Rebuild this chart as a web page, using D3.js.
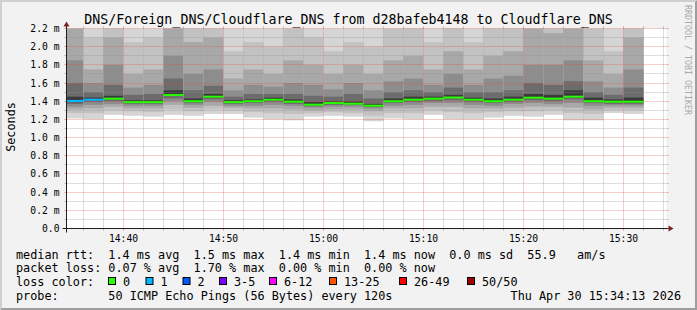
<!DOCTYPE html>
<html>
<head>
<meta charset="utf-8">
<script src="https://cdn.jsdelivr.net/npm/d3@7"></script>
<style>
  body { margin: 0; background: #f2f2f2; }
  svg text { font-family: "DejaVu Sans Mono", monospace; }
</style>
</head>
<body>
<div id="plot"></div>
<script>
const w = 697,
    h = 310,
    margin = {top: 28.5, right: 30.5, bottom: 81.5, left: 66.5}

// bar end times (120 s step)
const barEnds = ["14:36", "14:38", "14:40", "14:42", "14:44", "14:46", "14:48", "14:50", "14:52", "14:54",
  "14:56", "14:58", "15:00", "15:02", "15:04", "15:06", "15:08", "15:10", "15:12", "15:14",
  "15:16", "15:18", "15:20", "15:22", "15:24", "15:26", "15:28", "15:30", "15:32"]

// median rtt, ms
const medians = [1.403, 1.417, 1.428, 1.390, 1.390, 1.468, 1.400, 1.450, 1.390, 1.400,
  1.417, 1.395, 1.362, 1.380, 1.373, 1.351, 1.400, 1.417, 1.428, 1.441,
  1.417, 1.400, 1.417, 1.439, 1.428, 1.450, 1.400, 1.395, 1.395]

// lost pings of 50
const lossCount = [1, 1, 0, 0, 0, 0, 0, 0, 0, 0, 0, 0, 0, 0, 0, 0, 0, 0, 0, 0, 0, 0, 0, 0, 0, 0, 0, 0, 0]

// smoke: ping rtt (ms) of the 1st, 5th, 10th, 15th, 20th, 24th highest ping
const upper = [
  [3.0, 2.6, 2.2, 1.85, 1.6, 1.45], [2.5, 2.1, 1.75, 1.6, 1.5, 1.44], [3.0, 2.5, 2.1, 1.8, 1.58, 1.46],
  [2.4, 2.05, 1.7, 1.55, 1.47, 1.41], [2.5, 2.1, 1.75, 1.58, 1.48, 1.41], [3.0, 2.5, 2.2, 1.9, 1.65, 1.52],
  [2.8, 2.4, 2.05, 1.7, 1.52, 1.43], [3.0, 2.5, 2.1, 1.75, 1.57, 1.48], [2.3, 1.95, 1.65, 1.52, 1.45, 1.41],
  [2.4, 2.05, 1.75, 1.58, 1.48, 1.42], [2.3, 2.0, 1.7, 1.56, 1.48, 1.44], [2.5, 2.2, 1.85, 1.6, 1.48, 1.42],
  [2.5, 2.1, 1.8, 1.58, 1.46, 1.39], [2.3, 1.95, 1.7, 1.53, 1.45, 1.40], [2.4, 2.05, 1.8, 1.6, 1.48, 1.40],
  [2.4, 2.0, 1.7, 1.52, 1.43, 1.37], [2.6, 2.2, 1.85, 1.62, 1.5, 1.43], [2.7, 2.3, 1.9, 1.65, 1.52, 1.45],
  [2.4, 2.05, 1.75, 1.58, 1.5, 1.45], [2.7, 2.3, 1.95, 1.7, 1.55, 1.47], [2.4, 2.05, 1.75, 1.58, 1.5, 1.44],
  [2.7, 2.3, 1.9, 1.65, 1.5, 1.43], [2.7, 2.3, 1.95, 1.68, 1.52, 1.45], [3.0, 2.6, 2.2, 1.8, 1.6, 1.48],
  [3.0, 2.55, 2.15, 1.8, 1.58, 1.47], [3.0, 2.6, 2.2, 1.85, 1.62, 1.52], [2.6, 2.2, 1.85, 1.62, 1.5, 1.44],
  [2.3, 1.95, 1.7, 1.55, 1.47, 1.42], [3.0, 2.5, 2.1, 1.75, 1.55, 1.44]]
// same, lowest pings
const lower = [
  [1.21, 1.27, 1.31, 1.34, 1.37, 1.39], [1.20, 1.27, 1.32, 1.36, 1.39, 1.41], [1.25, 1.30, 1.34, 1.37, 1.40, 1.42],
  [1.24, 1.29, 1.32, 1.35, 1.37, 1.385], [1.23, 1.28, 1.32, 1.35, 1.37, 1.385], [1.25, 1.31, 1.36, 1.40, 1.43, 1.46],
  [1.24, 1.29, 1.33, 1.36, 1.38, 1.395], [1.26, 1.31, 1.35, 1.39, 1.42, 1.44], [1.26, 1.30, 1.33, 1.35, 1.37, 1.385],
  [1.22, 1.28, 1.32, 1.35, 1.38, 1.395], [1.20, 1.27, 1.32, 1.36, 1.39, 1.41], [1.19, 1.26, 1.31, 1.35, 1.37, 1.39],
  [1.23, 1.27, 1.30, 1.33, 1.345, 1.357], [1.24, 1.28, 1.31, 1.34, 1.36, 1.375], [1.23, 1.27, 1.31, 1.34, 1.36, 1.368],
  [1.18, 1.24, 1.29, 1.32, 1.335, 1.346], [1.21, 1.27, 1.32, 1.35, 1.38, 1.395], [1.20, 1.27, 1.32, 1.36, 1.39, 1.41],
  [1.25, 1.30, 1.34, 1.38, 1.40, 1.42], [1.20, 1.28, 1.34, 1.38, 1.41, 1.435], [1.20, 1.27, 1.32, 1.36, 1.39, 1.41],
  [1.22, 1.28, 1.32, 1.35, 1.38, 1.395], [1.24, 1.29, 1.33, 1.37, 1.39, 1.41], [1.23, 1.29, 1.34, 1.38, 1.41, 1.43],
  [1.25, 1.30, 1.34, 1.37, 1.40, 1.42], [1.19, 1.27, 1.33, 1.38, 1.42, 1.44], [1.19, 1.26, 1.31, 1.35, 1.38, 1.395],
  [1.27, 1.30, 1.33, 1.355, 1.37, 1.39], [1.26, 1.30, 1.33, 1.355, 1.37, 1.39]]

const smokeGrays = ["#d5d5d5", "#c2c2c2", "#a8a8a8", "#8d8d8d", "#6c6c6c", "#3a3a3a"]

const yTicks = [0, 0.2, 0.4, 0.6, 0.8, 1.0, 1.2, 1.4, 1.6, 1.8, 2.0, 2.2]
const xTicks = ["14:40", "14:50", "15:00", "15:10", "15:20", "15:30"]

const lossLabels = ["0", "1", "2", "3-5", "6-12", "13-25", "26-49", "50/50"],
    lossColors = ["#26ff00", "#00b8ff", "#0059ff", "#7e00ff", "#ff00ff", "#ff5500", "#ff0000", "#a10000"],
    lossUpTo = [0, 1, 2, 5, 12, 25, 49, 50]

const title = "DNS/Foreign_DNS/Cloudflare_DNS from d28bafeb4148 to Cloudflare_DNS",
    statsLine = "median rtt:  1.4 ms avg  1.5 ms max  1.4 ms min  1.4 ms now  0.0 ms sd  55.9   am/s",
    lossLine = "packet loss: 0.07 % avg  1.70 % max  0.00 % min  0.00 % now",
    probeLine = "probe:       50 ICMP Echo Pings (56 Bytes) every 120s",
    stamp = "Thu Apr 30 15:34:13 2026"

const keepSpaces = (s) => s.replace(/ /g, "\u00a0")

const parseT = d3.timeParse("%H:%M:%S"),
    parseHM = d3.timeParse("%H:%M"),
    x = d3.scaleTime()
      .domain([parseT("14:34:18"), parseT("15:34:18")])
      .range([margin.left, w - margin.right]),
    y = d3.scaleLinear()
      .domain([0, 2.2])
      .range([h - margin.bottom, margin.top]),
    crisp = (v) => Math.round(v - 0.5) + 0.5

const svg = d3.select("#plot").append("svg")
  .attr("width", w)
  .attr("height", h)

// background + 3d frame
svg.append("rect").attr("width", w).attr("height", h).attr("fill", "#f2f2f2")
svg.append("polygon")
  .attr("points", `0,0 ${w},0 ${w-2},2 2,2 2,${h-2} 0,${h}`)
  .attr("fill", "#cfcfcf")
svg.append("polygon")
  .attr("points", `${w},0 ${w},${h} 0,${h} 2,${h-2} ${w-2},${h-2} ${w-2},2`)
  .attr("fill", "#9e9e9e")

const x0 = x.range()[0], x1 = x.range()[1], yb = y.range()[0], yt = y.range()[1]

svg.append("rect")
  .attr("x", x0).attr("y", yt)
  .attr("width", x1 - x0).attr("height", yb - yt)
  .attr("fill", "#ffffff")

svg.append("clipPath")
  .attr("id", "plot-clip")
  .append("rect")
  .attr("x", x0).attr("y", yt)
  .attr("width", x1 - x0).attr("height", yb - yt)

const bars = barEnds.map((t, i) => {
  const end = parseHM(t)
  return {start: d3.timeMinute.offset(end, -2), end: end, med: medians[i], loss: lossCount[i], hi: upper[i], lo: lower[i]}
})

// smoke
const smoke = svg.append("g").attr("clip-path", "url(#plot-clip)")
bars.forEach((b) => {
  smokeGrays.forEach((c, j) => {
    smoke.append("rect")
      .attr("x", x(b.start))
      .attr("width", x(b.end) - x(b.start))
      .attr("y", y(b.hi[j]))
      .attr("height", y(b.lo[j]) - y(b.hi[j]))
      .attr("fill", c)
  })
})

// grid
const grid = svg.append("g").attr("fill", "none")
const minorCol = "rgba(143,143,143,0.6)", majorCol = "rgba(222,79,79,0.55)"

const yMinor = d3.range(1, 22, 2).map((d) => d / 10)
const drawH = (vals, col) => {
  vals.forEach((v) => {
    const yy = crisp(y(v))
    grid.append("line").attr("x1", x0).attr("x2", x1).attr("y1", yy).attr("y2", yy)
      .attr("stroke", col).attr("stroke-dasharray", "1,1")
    grid.append("line").attr("x1", x0 - 2).attr("x2", x0).attr("y1", yy).attr("y2", yy).attr("stroke", col)
    grid.append("line").attr("x1", x1).attr("x2", x1 + 2).attr("y1", yy).attr("y2", yy).attr("stroke", col)
  })
}
drawH(yMinor, minorCol)
drawH(yTicks.slice(1), majorCol)

const xMinor = d3.timeMinute.every(2).range(...x.domain()).filter((t) => t.getMinutes() % 10),
    xMajor = xTicks.map(parseHM)
const drawV = (vals, col) => {
  vals.forEach((t) => {
    const xx = crisp(x(t))
    grid.append("line").attr("x1", xx).attr("x2", xx).attr("y1", yt).attr("y2", yb)
      .attr("stroke", col).attr("stroke-dasharray", "1,1")
    grid.append("line").attr("x1", xx).attr("x2", xx).attr("y1", yb).attr("y2", yb + 2).attr("stroke", col)
    grid.append("line").attr("x1", xx).attr("x2", xx).attr("y1", yt - 2).attr("y2", yt).attr("stroke", col)
  })
}
drawV(xMinor, minorCol)
drawV(xMajor, majorCol)

// median, coloured by loss
const lossIdx = (n) => lossUpTo.findIndex((u) => n <= u)
svg.append("g").attr("clip-path", "url(#plot-clip)")
  .selectAll("rect")
  .data(bars)
  .join("rect")
  .attr("x", (d) => x(d.start))
  .attr("width", (d) => x(d.end) - x(d.start))
  .attr("y", (d) => y(d.med) - 1)
  .attr("height", 2)
  .attr("fill", (d) => lossColors[lossIdx(d.loss)])

// axes
svg.append("line")
  .attr("x1", x0 - 4).attr("x2", x1 + 2).attr("y1", yb).attr("y2", yb)
  .attr("stroke", "#1f1f1f")
svg.append("line")
  .attr("x1", x0).attr("x2", x0).attr("y1", yb + 4).attr("y2", yt - 4)
  .attr("stroke", "#1f1f1f")
svg.append("path")
  .attr("d", `M${x1 + 7},${yb} L${x1 + 2},${yb - 3} L${x1 + 2},${yb + 3} Z`)
  .attr("fill", "#801f1f")
svg.append("path")
  .attr("d", `M${x0},${yt - 7} L${x0 - 3},${yt - 2} L${x0 + 3},${yt - 2} Z`)
  .attr("fill", "#801f1f")

// tick labels
svg.append("g")
  .selectAll("text")
  .data(yTicks)
  .join("text")
  .attr("x", x0 - 7)
  .attr("y", (d) => y(d) + 3.5)
  .attr("text-anchor", "end")
  .attr("font-size", "9.7px")
  .text((d) => keepSpaces(d === 0 ? "0.0" : d.toFixed(1) + " m"))

svg.append("g")
  .selectAll("text")
  .data(xTicks)
  .join("text")
  .attr("x", (d) => x(parseHM(d)))
  .attr("y", yb + 13.5)
  .attr("text-anchor", "middle")
  .attr("font-size", "9.7px")
  .text((d) => d)

// title & labels
svg.append("text")
  .attr("x", w / 2)
  .attr("y", 24)
  .attr("text-anchor", "middle")
  .attr("font-size", "13.3px")
  .text(title)

svg.append("text")
  .attr("transform", "translate(15, 127) rotate(-90)")
  .attr("text-anchor", "middle")
  .attr("font-size", "11.8px")
  .text("Seconds")

svg.append("text")
  .attr("transform", "translate(685, 60) rotate(90)")
  .attr("text-anchor", "middle")
  .attr("font-size", "8.3px")
  .attr("fill", "#a9a9a9")
  .text(keepSpaces("RRDTOOL / TOBI OETIKER"))

// legend
const legend = svg.append("g")
  .attr("font-size", "11.8px")

legend.append("text").attr("x", 16).attr("y", 258.5).text(keepSpaces(statsLine))
legend.append("text").attr("x", 16).attr("y", 272).text(keepSpaces(lossLine))
legend.append("text").attr("x", 16).attr("y", 286).text(keepSpaces("loss color:"))
legend.append("text").attr("x", 16).attr("y", 299.5).text(keepSpaces(probeLine))
legend.append("text").attr("x", 681).attr("y", 299.5).attr("text-anchor", "end").text(keepSpaces(stamp))

const boxX = [108, 145.5, 182.5, 219, 269, 329, 399, 467]
lossLabels.forEach((l, i) => {
  legend.append("rect")
    .attr("x", boxX[i] + 0.5).attr("y", 277.5)
    .attr("width", 7).attr("height", 7)
    .attr("fill", lossColors[i])
    .attr("stroke", "#000")
  legend.append("text")
    .attr("x", boxX[i] + 15)
    .attr("y", 286)
    .text(l)
})
</script>
</body>
</html>
